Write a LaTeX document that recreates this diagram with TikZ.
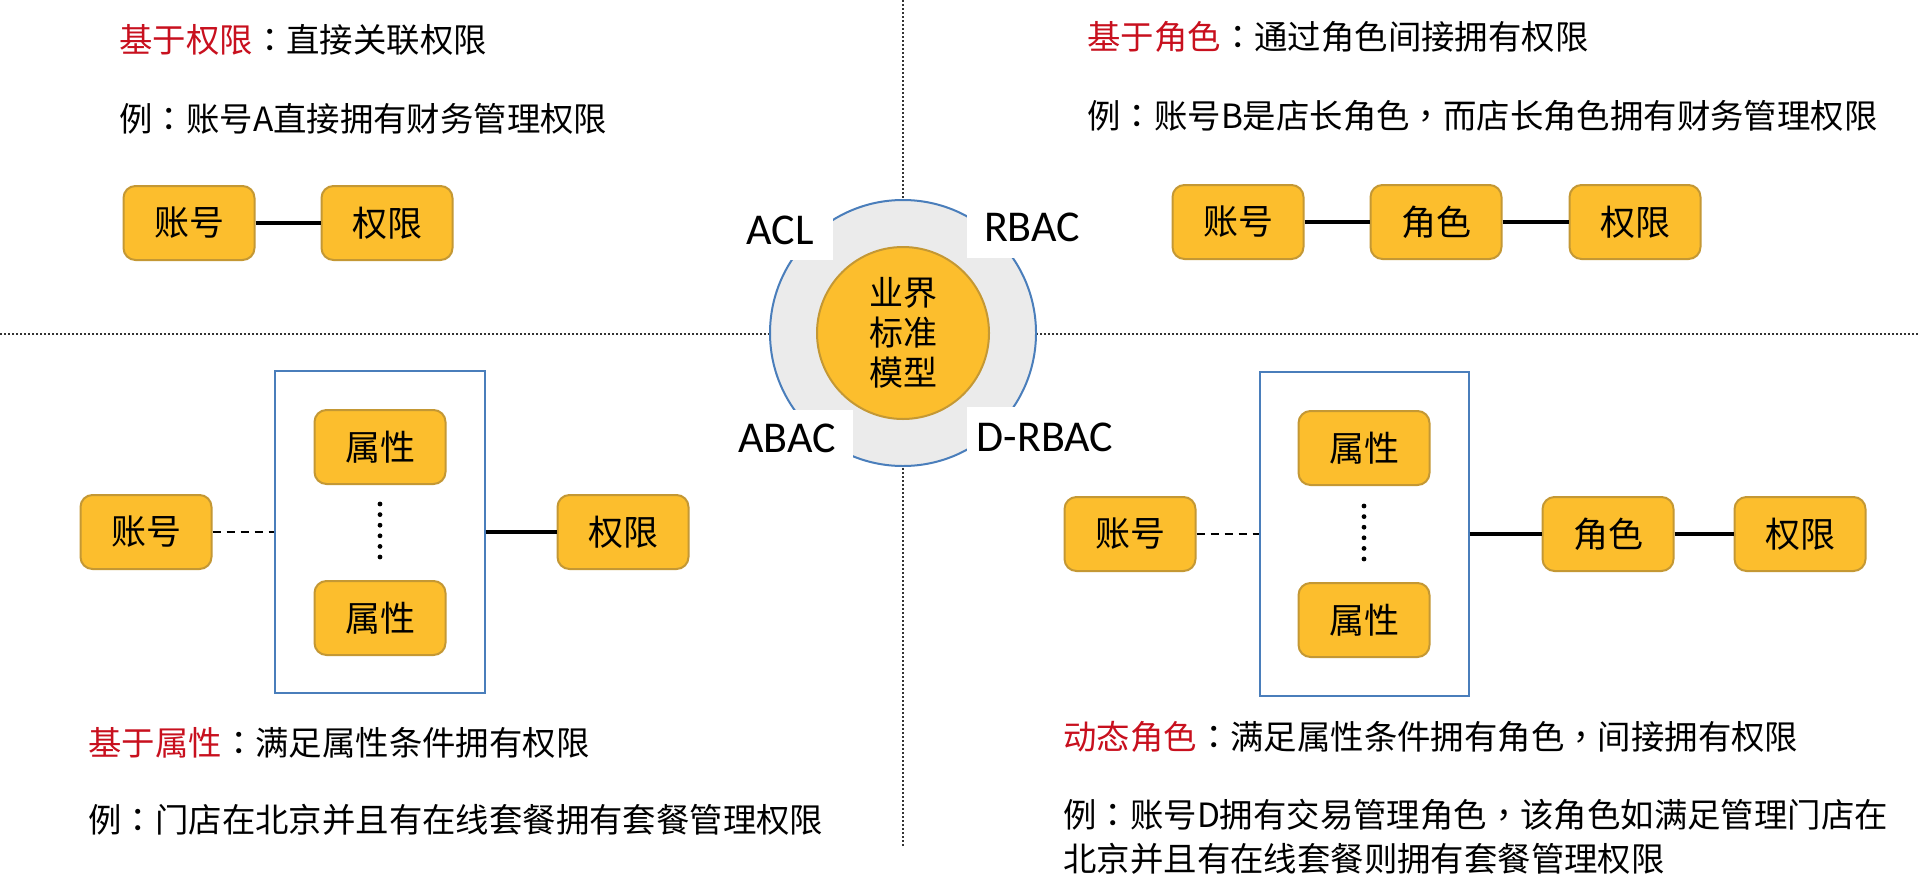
\documentclass[tikz,border=0pt]{standalone}
\usepackage{fontspec}
\setmainfont{Noto Sans CJK SC}
\newfontfamily\latinfont{Carlito}
\newfontfamily\punct{Noto Sans CJK TC}
\usepackage{tikz}

\definecolor{boxfill}{RGB}{252,190,45}
\definecolor{boxline}{RGB}{196,152,52}
\definecolor{groupblue}{RGB}{74,126,187}
\definecolor{ringgray}{RGB}{235,235,235}
\definecolor{accent}{RGB}{200,16,30}

% centred full-width punctuation
\newcommand{\cn}{{\punct ：}}
\newcommand{\cm}{{\punct ，}}

\tikzset{
  item/.style={draw=boxline, fill=boxfill, line width=1pt, rounded corners=6pt,
    minimum width=65.5pt, minimum height=37pt, inner sep=0pt,
    font=\fontsize{17.5}{20}\selectfont},
  group/.style={draw=groupblue, line width=1pt, inner sep=0pt},
  link/.style={line width=2pt},
  weak/.style={line width=1pt, dash pattern=on 4pt off 3pt},
  divider/.style={line width=1pt, dash pattern=on 1pt off 1pt, draw=black!80},
  desc/.style={anchor=west, inner sep=0pt, align=left,
    font=\fontsize{16.7}{22}\selectfont},
  model/.style={fill=white, inner sep=0pt,
    font=\latinfont\fontsize{22}{24}\selectfont},
}

\begin{document}
\begin{tikzpicture}[x=0.5pt,y=-0.5pt]
    \fill[white] (0,0) rectangle (1920,894);
    \useasboundingbox (0,0) rectangle (1920,894);

    % quadrant lines
    \coordinate (vTop) at (903,0);
    \coordinate (vBot) at (903,848);
    \coordinate (hLeft) at (0,334);
    \coordinate (hRight) at (1920,334);
    \draw[divider] (vTop) -- (vBot);
    \draw[divider] (hLeft) -- (hRight);

    % centre
    \node[circle, draw=groupblue, fill=ringgray, line width=1pt, minimum size=133pt] (ring) at (903,333) {};
    \node[model, minimum width=53pt, minimum height=30pt] (acl) at (780,230) {ACL};
    \node[model, minimum width=65pt, minimum height=31pt] (rbac) at (1032,227) {RBAC};
    \node[model, minimum width=66pt, minimum height=28pt] (abac) at (787,438) {ABAC};
    \node[model, minimum width=78pt, minimum height=30pt] (drbac) at (1045,437) {D-RBAC};
    \node[circle, draw=boxline, fill=boxfill, line width=1pt, minimum size=86pt, inner sep=0pt,
      align=center, font=\fontsize{17}{20}\selectfont] (hub) at (903,333) {业界\\标准\\模型};

    % top left: ACL
    \node[desc] (tlHead) at (119,40) {\textcolor{accent}{基于权限}\cn 直接关联权限};
    \node[desc] (tlNote) at (119,119) {例\cn 账号A直接拥有财务管理权限};
    \node[item] (tlAcct) at (189,223) {账号};
    \node[item] (tlPerm) at (387,223) {权限};
    \draw[link] (tlAcct) -- (tlPerm);

    % top right: RBAC
    \node[desc] (trHead) at (1087,37) {\textcolor{accent}{基于角色}\cn 通过角色间接拥有权限};
    \node[desc] (trNote) at (1087,116) {例\cn 账号B是店长角色\cm 而店长角色拥有财务管理权限};
    \node[item] (trAcct) at (1238,222) {账号};
    \node[item] (trRole) at (1436,222) {角色};
    \node[item] (trPerm) at (1635,222) {权限};
    \draw[link] (trAcct) -- (trRole);
    \draw[link] (trRole) -- (trPerm);

    % bottom left: ABAC
    \node[group, minimum width=104.75pt, minimum height=161pt] (blGroup) at (380,532) {};
    \node[item] (blAttrTop) at (380,447) {属性};
    \node[item] (blAttrBot) at (380,618) {属性};
    \foreach \k in {0,...,5}
        \fill (380,504+\k*10.6) circle (1.2pt);
    \node[item] (blAcct) at (146,532) {账号};
    \node[item] (blPerm) at (623,532) {权限};
    \draw[weak] (blAcct) -- (blGroup);
    \draw[link] (blGroup) -- (blPerm);
    \node[desc] (blHead) at (88,743) {\textcolor{accent}{基于属性}\cn 满足属性条件拥有权限};
    \node[desc] (blNote) at (88,820) {例\cn 门店在北京并且有在线套餐拥有套餐管理权限};

    % bottom right: D-RBAC
    \node[group, minimum width=104.5pt, minimum height=162pt] (brGroup) at (1364,534) {};
    \node[item] (brAttrTop) at (1364,448) {属性};
    \node[item] (brAttrBot) at (1364,620) {属性};
    \foreach \k in {0,...,5}
        \fill (1364,506+\k*10.6) circle (1.2pt);
    \node[item] (brAcct) at (1130,534) {账号};
    \node[item] (brRole) at (1608,534) {角色};
    \node[item] (brPerm) at (1800,534) {权限};
    \draw[weak] (brAcct) -- (brGroup);
    \draw[link] (brGroup) -- (brRole);
    \draw[link] (brRole) -- (brPerm);
    \node[desc] (brHead) at (1063,737) {\textcolor{accent}{动态角色}\cn 满足属性条件拥有角色\cm 间接拥有权限};
    \node[desc] (brNote) at (1063,837) {例\cn 账号D拥有交易管理角色\cm 该角色如满足管理门店在\\北京并且有在线套餐则拥有套餐管理权限};
\end{tikzpicture}
\end{document}
